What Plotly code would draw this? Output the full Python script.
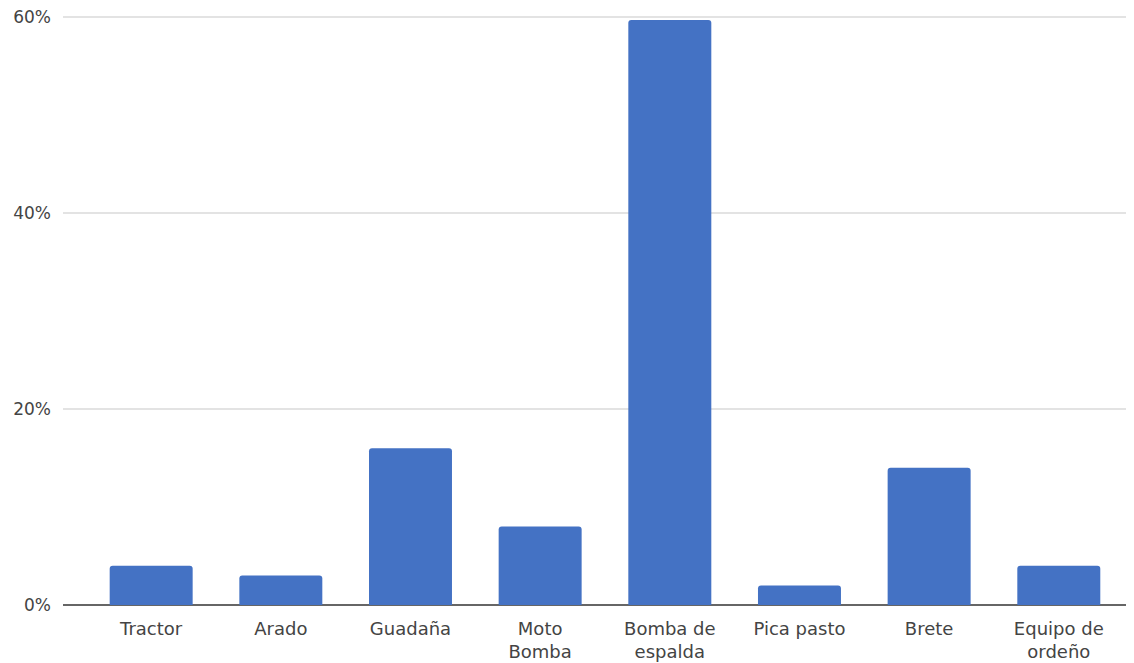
import plotly.graph_objects as go

categories = ["Tractor", "Arado", "Guadaña", "Moto<br>Bomba", "Bomba de<br>espalda",
              "Pica pasto", "Brete", "Equipo de<br>ordeño"]
values = [4, 3, 16, 8, 59.7, 2, 14, 4]
y_ticks = [0, 20, 40, 60]
y_tick_labels = ["0%", "20%", "40%", "60%"]

fig = go.Figure(go.Bar(
    x=list(range(len(categories))),
    y=values,
    marker=dict(color="#4472C4", line=dict(width=0)),
    width=0.64,
    hoverinfo="skip",
))

font_family = "DejaVu Sans"
fig.update_layout(
    width=1126, height=655,
    margin=dict(l=55, r=0, t=6, b=58, autoexpand=False),
    paper_bgcolor="white", plot_bgcolor="white",
    barcornerradius=3,
    showlegend=False,
    font=dict(family=font_family, size=18, color="#444444"),
)
fig.update_xaxes(
    tickmode="array",
    tickvals=list(range(len(categories))),
    ticktext=categories,
    range=[-0.68, 7.58],
    showgrid=False,
    showline=False,
    zeroline=False,
    ticks="",
    automargin=False,
    ticklabelstandoff=11,
    ticklabeloverflow="allow",
    tickfont=dict(family=font_family, size=18, color="#444444"),
)
fig.update_yaxes(
    range=[0, 60.3],
    tickmode="array",
    tickvals=y_ticks,
    ticktext=y_tick_labels,
    showgrid=True,
    gridcolor="#e3e3e3",
    gridwidth=1.5,
    zeroline=True,
    zerolinecolor="#666666",
    zerolinewidth=1.5,
    ticks="",
    automargin=False,
    ticklabelstandoff=11,
    ticklabeloverflow="allow",
    tickfont=dict(family=font_family, size=17, color="#444444"),
)

fig.write_html("out.html")
